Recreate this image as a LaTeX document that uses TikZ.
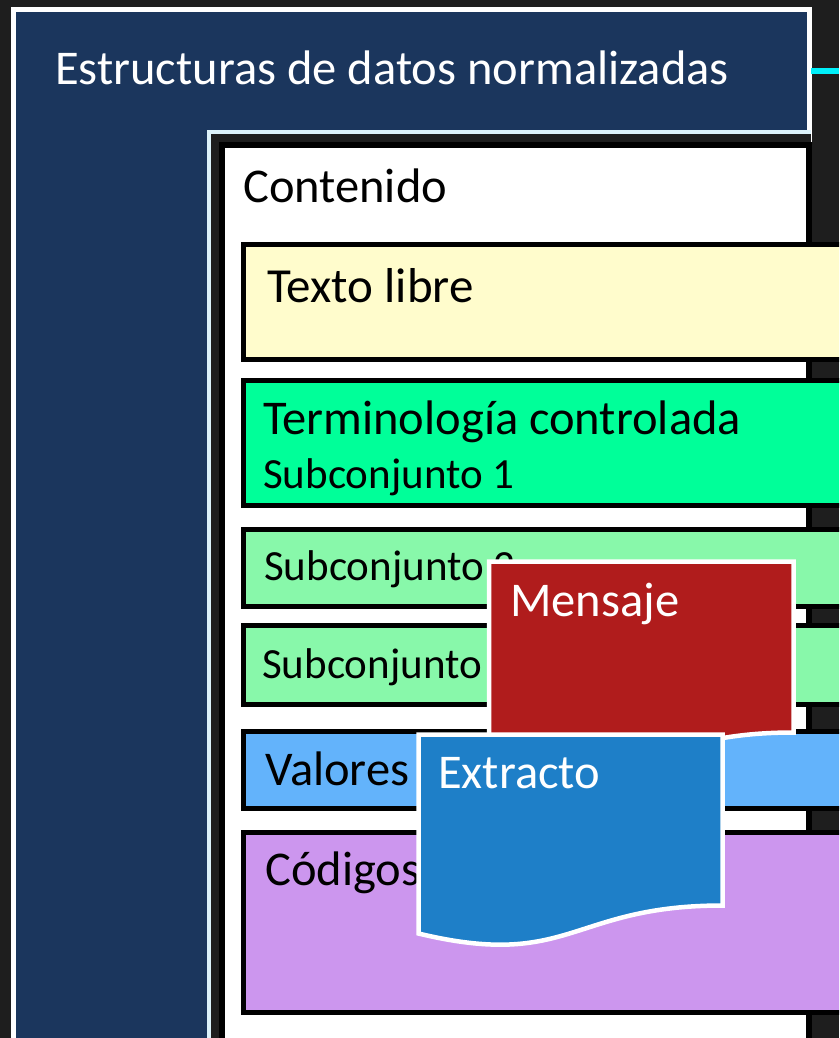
\documentclass[tikz,border=0pt]{standalone}
\usepackage{fontspec}
\setmainfont{Carlito}
\definecolor{bgdark}{RGB}{30,30,30}
\definecolor{navyc}{RGB}{27,54,93}
\definecolor{edgec}{RGB}{220,242,250}
\definecolor{linecyan}{RGB}{0,240,250}
\definecolor{yellowc}{RGB}{255,252,204}
\definecolor{springc}{RGB}{0,255,153}
\definecolor{lgreenc}{RGB}{136,248,170}
\definecolor{lbluec}{RGB}{99,179,251}
\definecolor{lavc}{RGB}{204,150,238}
\definecolor{redc}{RGB}{176,28,28}
\definecolor{bluec}{RGB}{30,127,200}
\begin{document}
\begin{tikzpicture}[x=1pt,y=-1pt,
  lbl/.style={anchor=base west, inner sep=0pt, font=\fontsize{48.5}{50}\selectfont},
  sublbl/.style={lbl, font=\fontsize{43}{45}\selectfont},
  barbox/.style={draw=black, line width=5pt},
  docbox/.style={draw=white, line width=4.5pt, line join=miter}]
\useasboundingbox (0,0) rectangle (839,1038);
\fill[bgdark] (0,0) rectangle (839,1038);
\begin{scope}
\clip (0,0) rectangle (839,1038);
% outer navy panel
\draw[white, line width=5pt, fill=navyc] (13.5,9.5) rectangle (809,1070);
% inner recess
\fill[bgdark] (209,132) rectangle (811,1070);
\draw[edgec, line width=4pt] (209,1070) -- (209,132) -- (811,132);
% cyan connector stub
\fill[linecyan] (811,68) rectangle (839,74);
% contenido box
\draw[black, line width=6pt, fill=white] (222,145) rectangle (809,1070);
% bars
\draw[barbox, fill=yellowc] (243.5,244.5) rectangle (870,359.5);
\draw[barbox, fill=springc] (243.5,380.5) rectangle (870,505.5);
\draw[barbox, fill=lgreenc] (243.5,529.5) rectangle (870,606.5);
\draw[barbox, fill=lgreenc] (243.5,625.5) rectangle (870,704.5);
\draw[barbox, fill=lbluec] (243.5,731.5) rectangle (870,808.5);
\draw[barbox, fill=lavc] (243.5,832.5) rectangle (870,1012.5);
% texts
\node[lbl, white] (title) at (55,85) {Estructuras de datos normalizadas};
\node[lbl] (cont) at (243,202) {Contenido};
\node[lbl, font=\fontsize{49}{51}\selectfont] (texto) at (267,302) {Texto libre};
\node[lbl] (term) at (263,434) {Terminología controlada};
\node[sublbl] (sub1) at (263,488) {Subconjunto 1};
\node[sublbl] (sub2) at (264,580) {Subconjunto 2};
\node[sublbl] (sub3) at (262,678) {Subconjunto 3};
\node[lbl] (val) at (265,785) {Valores};
\node[lbl] (cod) at (265,885) {Códigos};
% Mensaje document shape
\draw[docbox, fill=redc] (489,561.5) -- (793.5,561.5) -- (793.5,732.5)
  .. controls (641,732.5) and (641,797) .. (489,760.5) -- cycle;
\node[lbl, white] (mens) at (510,616) {Mensaje};
% Extracto document shape
\draw[docbox, fill=bluec] (418.5,734.5) -- (722.5,734.5) -- (722.5,905.5)
  .. controls (570.5,905.5) and (570.5,970) .. (418.5,933.5) -- cycle;
\node[lbl, white] (extr) at (438,788) {Extracto};
\end{scope}
\end{tikzpicture}
\end{document}
